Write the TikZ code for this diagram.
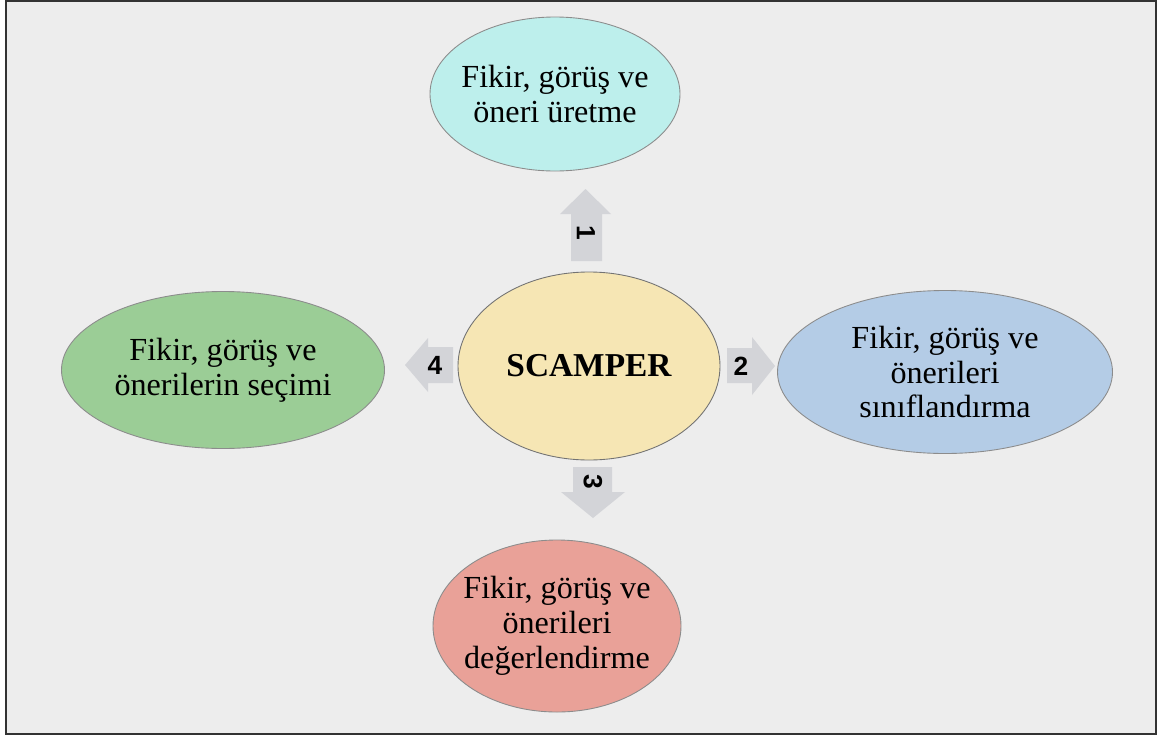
\documentclass[tikz,border=0pt]{standalone}
\usepackage{fontspec}
\setmainfont{Liberation Serif}
\newfontfamily\numfont{Liberation Sans}
\usetikzlibrary{shapes.geometric}
\definecolor{framebg}{HTML}{EDEDED}
\definecolor{arrowgray}{HTML}{D3D4D8}
\definecolor{topfill}{HTML}{BDEFEC}
\definecolor{leftfill}{HTML}{9BCD96}
\definecolor{rightfill}{HTML}{B4CCE6}
\definecolor{bottomfill}{HTML}{E9A198}
\definecolor{centerfill}{HTML}{F6E6B4}
\tikzset{
  stage/.style={ellipse, draw=black!45, line width=0.5pt, inner sep=0pt},
  stagetext/.style={font=\fontsize{18.3}{19.8}\selectfont, align=center},
  steparrow/.style={fill=arrowgray},
  stepnum/.style={font=\numfont\bfseries\fontsize{15}{15}\selectfont, inner sep=0pt}
}
\begin{document}
\begin{tikzpicture}[x=0.02cm, y=-0.02cm]
  \useasboundingbox (0,0) rectangle (1159,737);
  \fill[white] (0,0) rectangle (1159,737);
  \draw[fill=framebg, draw=black!80, line width=1.1pt] (6,1) rectangle (1156,734);

  % stage ellipses
  \node[stage, fill=topfill, minimum width=250*0.02cm, minimum height=154*0.02cm,
        label={[stagetext]center:Fikir, görüş ve\\öneri üretme}] (gen) at (555,94) {};
  \node[stage, fill=leftfill, minimum width=323*0.02cm, minimum height=157*0.02cm,
        label={[stagetext]center:Fikir, görüş ve\\önerilerin seçimi}] (sel) at (223,370) {};
  \node[stage, fill=rightfill, minimum width=335*0.02cm, minimum height=163*0.02cm,
        label={[stagetext]center:Fikir, görüş ve\\önerileri\\sınıflandırma}] (cls) at (945,372) {};
  \node[stage, fill=bottomfill, minimum width=248*0.02cm, minimum height=172*0.02cm,
        label={[stagetext]center:Fikir, görüş ve\\önerileri\\değerlendirme}] (eval) at (557,626) {};
  \node[stage, fill=centerfill, draw=black!55, minimum width=262*0.02cm, minimum height=188*0.02cm,
        label={[font=\bfseries\fontsize{19}{19}\selectfont]center:SCAMPER}] (scamper) at (589,366) {};

  % block arrows
  \fill[steparrow] (571,261) -- (571,214) -- (560,214) -- (585.5,189) -- (611,214) -- (602,214) -- (602,261) -- cycle;
  \fill[steparrow] (727,348) -- (752,348) -- (752,337) -- (775,366) -- (752,395) -- (752,383) -- (727,383) -- cycle;
  \fill[steparrow] (573,467) -- (612,467) -- (612,492) -- (625,492) -- (593,518) -- (561,492) -- (573,492) -- cycle;
  \fill[steparrow] (453,347) -- (428,347) -- (428,338) -- (405,365) -- (428,392) -- (428,383) -- (453,383) -- cycle;

  % step numbers
  \node[stepnum, rotate=-90] (n1) at (586,233) {1};
  \node[stepnum] (n2) at (741,366) {2};
  \node[stepnum, rotate=-90] (n3) at (593,482) {3};
  \node[stepnum] (n4) at (435,365) {4};
\end{tikzpicture}
\end{document}
